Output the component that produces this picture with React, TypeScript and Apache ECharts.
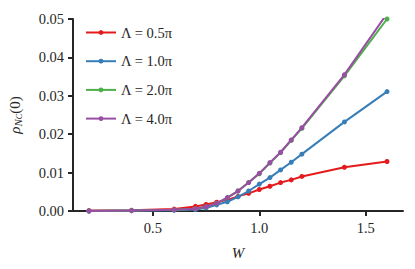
import React, { useEffect, useRef } from "react";
import * as echarts from "echarts";

const W = [0.2, 0.4, 0.6, 0.7, 0.75, 0.8, 0.85, 0.9, 0.95, 1.0, 1.05, 1.1, 1.15, 1.2, 1.4, 1.6];
const rho05 = [0.0001, 0.0002, 0.0005, 0.0012, 0.0017, 0.0023, 0.0029, 0.0038, 0.0046, 0.0056, 0.00645, 0.0074, 0.0081, 0.0090, 0.0114, 0.0129];
const rho10 = [0.0, 0.0001, 0.0002, 0.0004, 0.0008, 0.0016, 0.0024, 0.0037, 0.0052, 0.0070, 0.0087, 0.0107, 0.0127, 0.0148, 0.0232, 0.0311];
const rho20 = [0.0, 0.0001, 0.0003, 0.0006, 0.0011, 0.0020, 0.0035, 0.0052, 0.0074, 0.0097, 0.0125, 0.0152, 0.0184, 0.0215, 0.0352, 0.0500];
const rho40 = [0.0, 0.0001, 0.0003, 0.0006, 0.0011, 0.0020, 0.0035, 0.0052, 0.0074, 0.0098, 0.0126, 0.0153, 0.0185, 0.0217, 0.0355, 0.0514];
const names = ["Λ = 0.5π", "Λ = 1.0π", "Λ = 2.0π", "Λ = 4.0π"];
const colors = ["#e41a1c", "#377eb8", "#4daf4a", "#984ea3"];
const xTicks = [0.5, 1.0, 1.5];

const FONT = "'Liberation Serif', 'DejaVu Serif', serif";
const INK = "#262626";

export default function App() {
  const ref = useRef<HTMLDivElement>(null);
  useEffect(() => {
    const chart = echarts.init(ref.current!, null, { renderer: "svg" });
    const all = [rho05, rho10, rho20, rho40];
    chart.setOption({
      animation: false,
      textStyle: { fontFamily: FONT },
      grid: { left: 65, right: 4, top: 11, bottom: 50, containLabel: false, outerBoundsMode: "none" },
      legend: {
        left: 72,
        top: 12,
        orient: "vertical",
        itemWidth: 30,
        itemHeight: 6,
        itemGap: 13.7,
        textStyle: { fontFamily: FONT, fontSize: 14.5, color: INK },
        data: names,
      },
      xAxis: {
        type: "value",
        min: 0.125,
        max: 1.675,
        name: "W",
        nameLocation: "middle",
        nameGap: 34,
        nameTextStyle: { fontFamily: FONT, fontStyle: "italic", fontSize: 15, color: INK },
        axisLine: { onZero: false, lineStyle: { color: INK, width: 2 } },
        axisTick: { show: true, length: 5, lineStyle: { color: INK, width: 2 }, customValues: xTicks },
        axisLabel: {
          customValues: xTicks,
          fontFamily: FONT,
          fontSize: 14.5,
          color: INK,
          margin: 9,
          formatter: (v: number) => v.toFixed(1),
        },
        splitLine: { show: false },
      },
      yAxis: {
        type: "value",
        min: 0,
        max: 0.05,
        interval: 0.01,
        name: "{r|ρ}{s|N}{t|C}{u|(0)}",
        nameLocation: "middle",
        nameGap: 50,
        nameRotate: 90,
        nameTextStyle: {
          color: INK,
          rich: {
            r: { fontFamily: FONT, fontStyle: "italic", fontSize: 15, color: INK },
            u: { fontFamily: FONT, fontSize: 15, color: INK },
            s: { fontFamily: FONT, fontStyle: "italic", fontSize: 11, color: INK, verticalAlign: "bottom", padding: [6, 0, 0, 0] },
            t: { fontFamily: FONT, fontStyle: "italic", fontSize: 8, color: INK, verticalAlign: "bottom", padding: [9, 0, 0, 0] },
          },
        },
        axisLine: { show: true, lineStyle: { color: INK, width: 2 } },
        axisTick: { show: true, length: 5, lineStyle: { color: INK, width: 2 } },
        axisLabel: {
          fontFamily: FONT,
          fontSize: 14.5,
          color: INK,
          margin: 9,
          formatter: (v: number) => v.toFixed(2),
        },
        splitLine: { show: false },
      },
      series: names.map((n, i) => ({
        name: n,
        type: "line",
        data: W.map((w, j) => [w, all[i][j]]),
        symbol: "circle",
        symbolSize: 5,
        showSymbol: true,
        lineStyle: { color: colors[i], width: 2 },
        itemStyle: { color: colors[i] },
        z: 2 + i,
      })),
    });
    return () => chart.dispose();
  }, []);
  return <div ref={ref} style={{ width: 399, height: 253 }} />;
}
